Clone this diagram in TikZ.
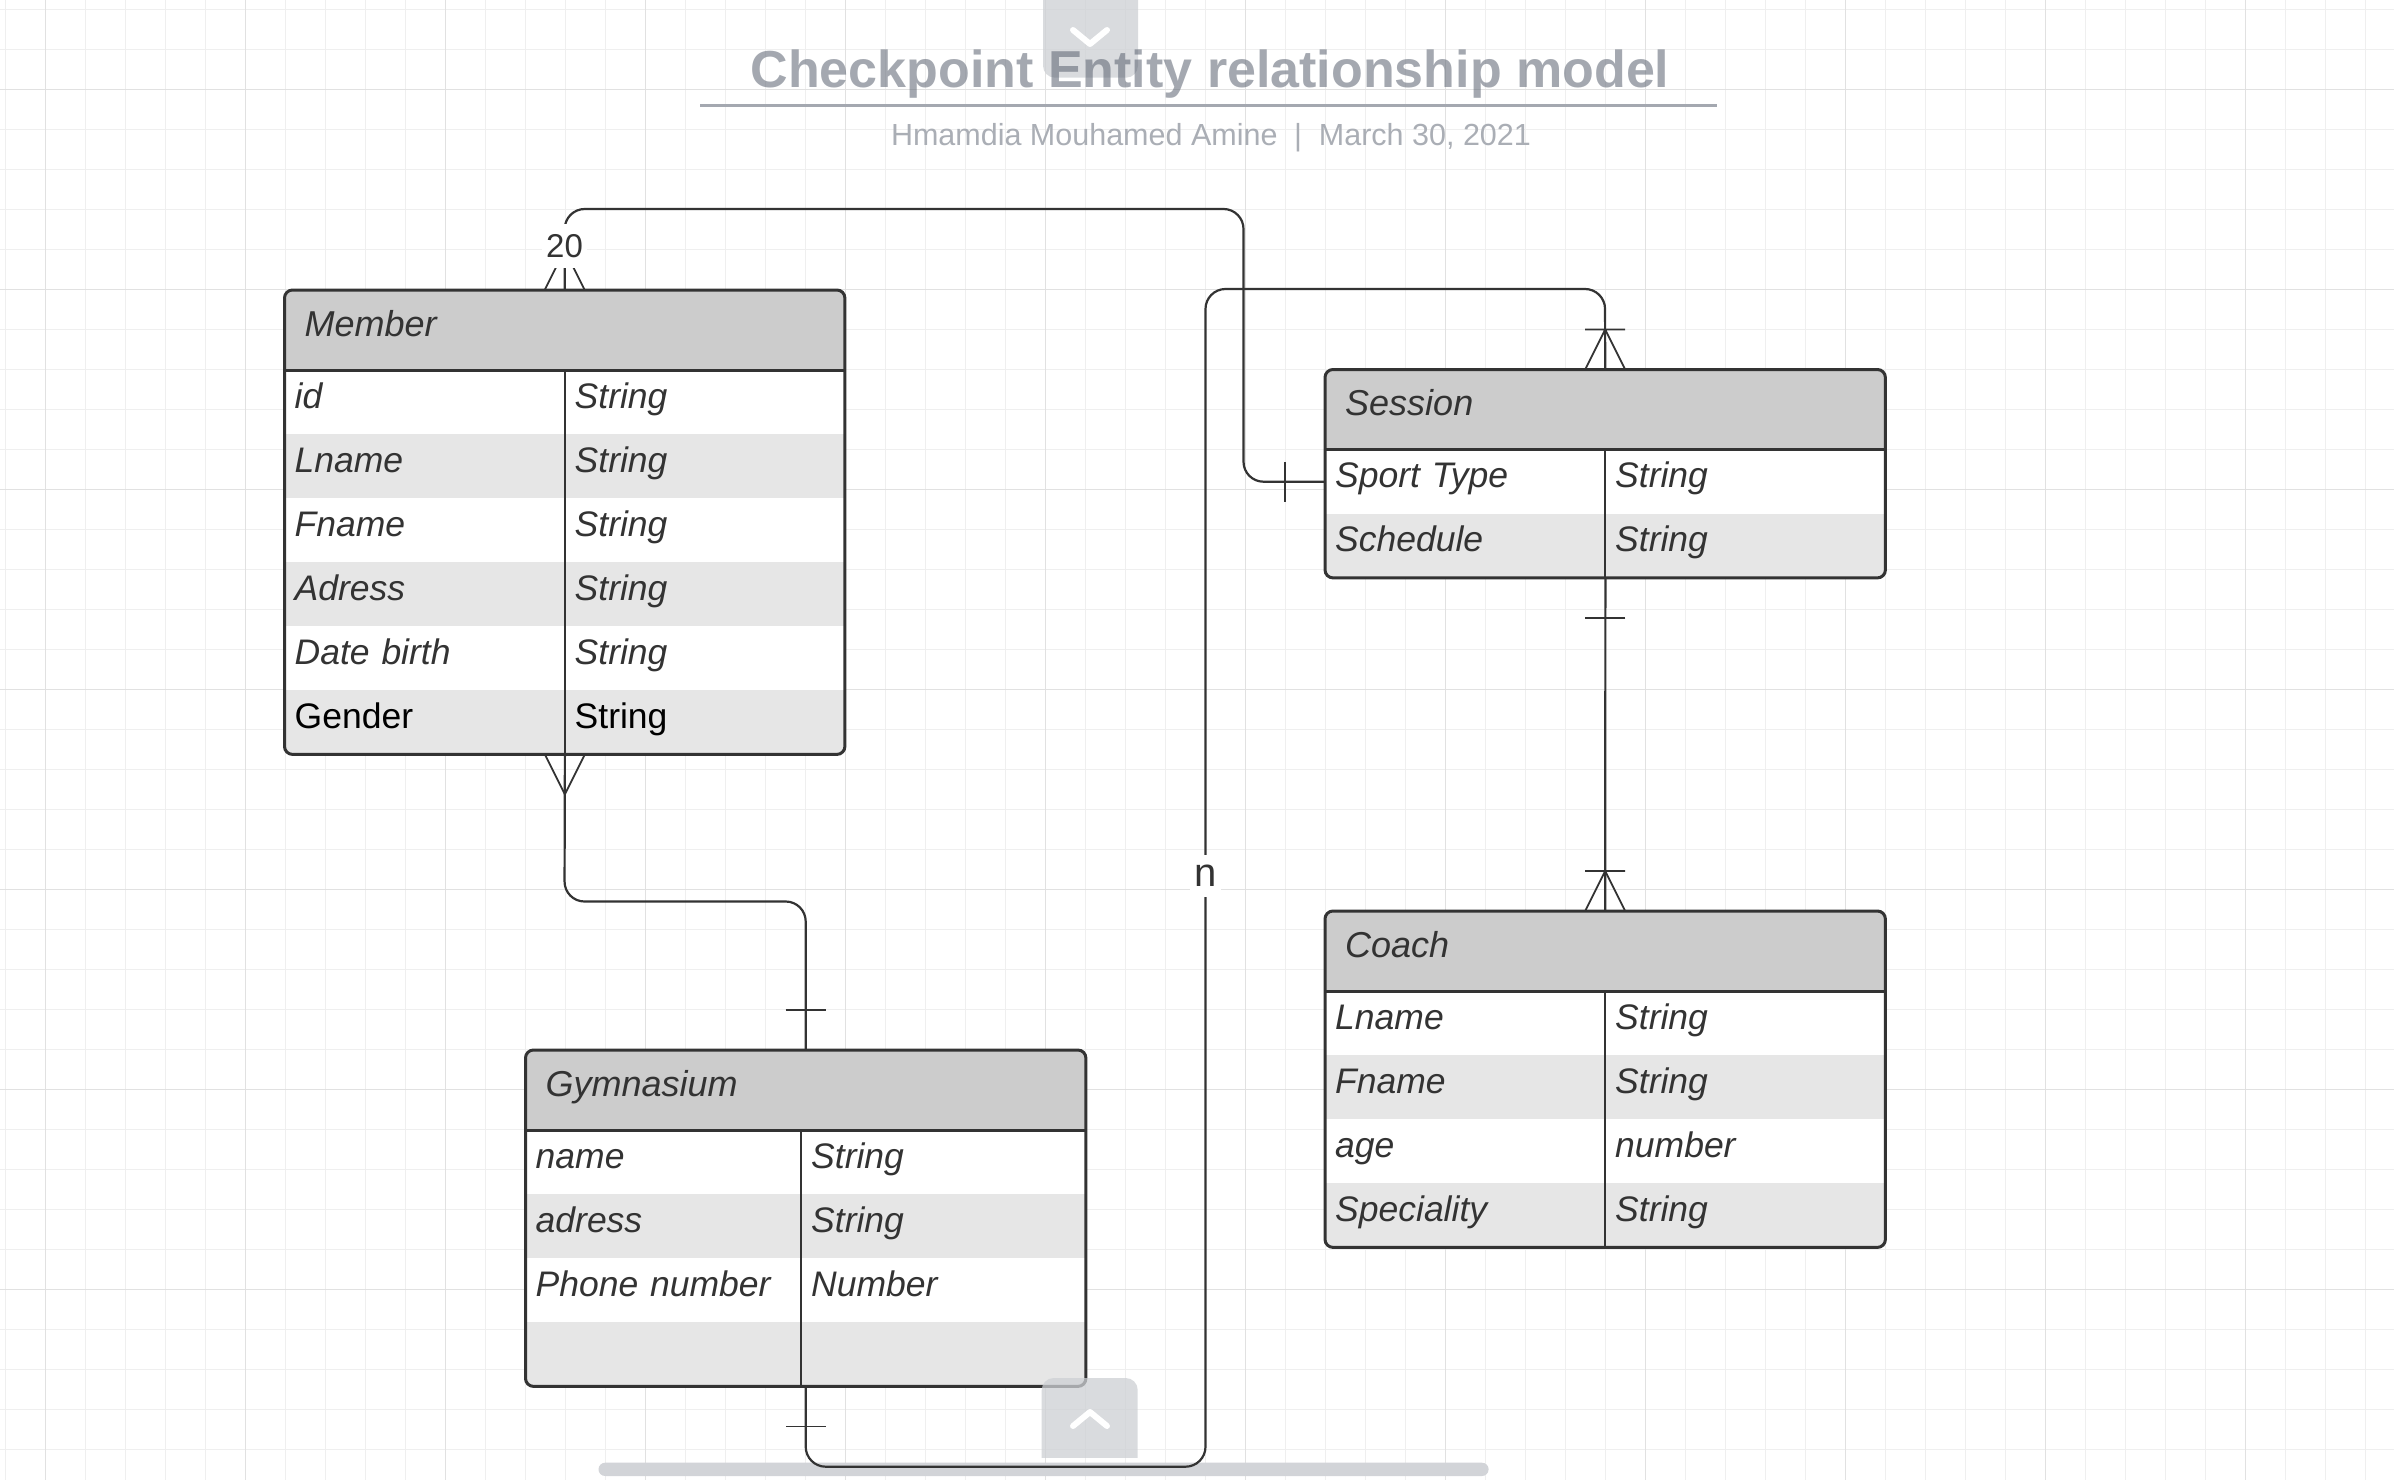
\documentclass[tikz,border=0pt]{standalone}
\usepackage{fontspec}
\setmainfont{Liberation Sans}
\usepackage{tikz}
\definecolor{ink}{HTML}{333333}
\definecolor{headfill}{HTML}{CCCCCC}
\definecolor{stripe}{HTML}{E6E6E6}
\definecolor{gridminor}{HTML}{EFEFEF}
\definecolor{gridmajor}{HTML}{E1E1E1}
\definecolor{titlegray}{HTML}{5A6270}
\definecolor{rulegray}{HTML}{A4A8B0}
\definecolor{subgray}{HTML}{AAAEB5}
\definecolor{tabgray}{HTML}{CDD0D4}
\definecolor{scrollgray}{HTML}{D2D4D8}

\begin{document}
\begin{tikzpicture}[x=1pt,y=-1pt]
\tikzset{
  grid minor/.style={draw=gridminor, line width=1pt},
  grid major/.style={draw=gridmajor, line width=1.4pt},
  er frame/.style={draw=ink, line width=3pt, rounded corners=8pt},
  er head/.style={anchor=north west, fill=headfill, minimum width=560pt, minimum height=80pt,
    text width=520pt, inner xsep=20pt, inner ysep=0pt, align=left, text height=26pt, text depth=13.5pt,
    font=\fontsize{36}{42}\selectfont\itshape, text=ink},
  er cell/.style={anchor=north west, minimum width=280pt, minimum height=64pt,
    text width=260pt, inner xsep=10pt, inner ysep=0pt, align=left, text height=25.5pt, text depth=13pt,
    font=\fontsize{35.5}{42}\selectfont\itshape, text=ink},
  er plain/.style={er cell, font=\fontsize{35.5}{42}\selectfont, text=black},
  er rule/.style={draw=ink, line width=3pt},
  er split/.style={draw=ink, line width=2pt},
  conn/.style={draw=ink, line width=2.2pt, rounded corners=20pt},
  crowline/.style={draw=ink, line width=1.8pt},
  card/.style={fill=white, text=ink, inner xsep=4pt, inner ysep=10.5pt},
  many/.pic={\draw[crowline] (-20pt,0pt) -- (0pt,40pt) -- (20pt,0pt);},
  onemany/.pic={\draw[crowline] (-20pt,0pt) -- (0pt,40pt) -- (20pt,0pt) (-20pt,40pt) -- (20pt,40pt);},
  one/.pic={\draw[crowline] (-20pt,40pt) -- (20pt,40pt);},
  viewer tab/.style={fill=tabgray, fill opacity=.75, rounded corners=12pt},
  chevron/.style={draw=white, line width=6pt, line cap=round, line join=round}
}
\fill[white] (0,0) rectangle (2394,1480);
\useasboundingbox (0,0) rectangle (2394,1480);
\foreach \gx in {5.3,45.3,...,2394} \draw[grid minor] (\gx,0) -- (\gx,1480);
\foreach \gy in {9.3,49.3,...,1480} \draw[grid minor] (0,\gy) -- (2394,\gy);
\foreach \gx in {45.3,245.3,...,2394} \draw[grid major] (\gx,0) -- (\gx,1480);
\foreach \gy in {89.3,289.3,...,1480} \draw[grid major] (0,\gy) -- (2394,\gy);
\fill[scrollgray, rounded corners=6.6pt] (598.5,1462.7) rectangle (1488.6,1476);

% heading
\fill[viewer tab] (1043,-30) rectangle (1138,77.7);
\draw[chevron] (1073,30) -- (1090,44) -- (1107,30);
\node[anchor=base, font=\fontsize{52}{60}\selectfont\bfseries, text=titlegray, text opacity=.55] (title) at (1210,87.3) {Checkpoint Entity relationship model};
\draw[draw=rulegray, line width=3.3pt] (700,105.7) -- (1716.5,105.7);
\node[anchor=base, font=\fontsize{30.5}{36}\selectfont, text=subgray] (byline) at (1211,145.7) {Hmamdia Mouhamed Amine\hspace{.55em}|\hspace{.55em}March 30, 2021};

% Member
\begin{scope}
\clip[rounded corners=8pt] (284.5,290) rectangle (844.5,754);
\fill[white] (284.5,290) rectangle (844.5,754);
\foreach \k in {2,4,6} \fill[stripe] (284.5,{370+64*(\k-1)}) rectangle ++(560,64);
\node[er head] (member) at (284.5,290) {Member};
\foreach \k/\a in {1/id,2/Lname,3/Fname,4/Adress,5/Date birth}{
  \node[er cell] (member-\k) at (284.5,{370+64*(\k-1)}) {\a};
  \node[er cell] (member-\k-type) at (564.5,{370+64*(\k-1)}) {String};
}
\node[er plain] (member-6) at (284.5,690) {Gender};
\node[er plain] (member-6-type) at (564.5,690) {String};
\end{scope}
\draw[er rule] (member.south west) -- (member.south east);
\draw[er split] (member-1.north east) -- (member-6.south east);
\draw[er frame] (member.north west) rectangle (member-6-type.south east);

% Session
\begin{scope}
\clip[rounded corners=8pt] (1325,369.5) rectangle (1885,577.5);
\fill[white] (1325,369.5) rectangle (1885,577.5);
\fill[stripe] (1325,513.5) rectangle ++(560,64);
\node[er head] (session) at (1325,369.5) {Session};
\foreach \k/\a in {1/Sport Type,2/Schedule}{
  \node[er cell] (session-\k) at (1325,{449.5+64*(\k-1)}) {\a};
  \node[er cell] (session-\k-type) at (1605,{449.5+64*(\k-1)}) {String};
}
\end{scope}
\draw[er rule] (session.south west) -- (session.south east);
\draw[er split] (session-1.north east) -- (session-2.south east);
\draw[er frame] (session.north west) rectangle (session-2-type.south east);

% Coach
\begin{scope}
\clip[rounded corners=8pt] (1325,911) rectangle (1885,1247);
\fill[white] (1325,911) rectangle (1885,1247);
\foreach \k in {2,4} \fill[stripe] (1325,{991+64*(\k-1)}) rectangle ++(560,64);
\node[er head] (coach) at (1325,911) {Coach};
\foreach \k/\a/\b in {1/Lname/String,2/Fname/String,3/age/number,4/Speciality/String}{
  \node[er cell] (coach-\k) at (1325,{991+64*(\k-1)}) {\a};
  \node[er cell] (coach-\k-type) at (1605,{991+64*(\k-1)}) {\b};
}
\end{scope}
\draw[er rule] (coach.south west) -- (coach.south east);
\draw[er split] (coach-1.north east) -- (coach-4.south east);
\draw[er frame] (coach.north west) rectangle (coach-4-type.south east);

% Gymnasium
\begin{scope}
\clip[rounded corners=8pt] (525.5,1050) rectangle (1085.5,1386);
\fill[white] (525.5,1050) rectangle (1085.5,1386);
\foreach \k in {2,4} \fill[stripe] (525.5,{1130+64*(\k-1)}) rectangle ++(560,64);
\node[er head] (gym) at (525.5,1050) {Gymnasium};
\foreach \k/\a/\b in {1/name/String,2/adress/String,3/Phone number/Number,4//}{
  \node[er cell, minimum width=275.5pt, text width=255.5pt] (gym-\k) at (525.5,{1130+64*(\k-1)}) {\a};
  \node[er cell, minimum width=284.5pt, text width=264.5pt] (gym-\k-type) at (801,{1130+64*(\k-1)}) {\b};
}
\end{scope}
\draw[er rule] (gym.south west) -- (gym.south east);
\draw[er split] (gym-1.north east) -- (gym-4.south east);
\draw[er frame] (gym.north west) rectangle (gym-4-type.south east);

% relations
\draw[conn] (member.north) |- (1243.5,209) |- (session-1.west);
\draw[conn] (member-6.south east) -- (564.5,901.5) -| (gym.north);
\draw[conn] (gym.north |- gym-4.south) |- (1205.5,1466.7) |- (1605,289) -- (session.north);
\draw[conn] (session-2.south east) -- (coach.north);
\pic at (member.north) {many};
\pic[rotate=180] at (member-6.south east) {many};
\pic at (gym.north) {one};
\pic[rotate=180] at (gym.north |- gym-4.south) {one};
\pic at (session.north) {onemany};
\pic[rotate=90] at (session-1.west) {one};
\pic[rotate=180] at (session-2.south east) {one};
\pic at (coach.north) {onemany};
\node[card, font=\fontsize{33}{40}\selectfont] (card-member) at (564.5,246) {20};
\node[card, font=\fontsize{40}{48}\selectfont] (card-gym) at (1205.5,876) {n};

% viewer
\begin{scope}
\clip (1030,1370) rectangle (1150,1457.7);
\fill[viewer tab] (1041.7,1378) rectangle (1137.7,1500);
\end{scope}
\draw[chevron] (1073,1426) -- (1090,1412) -- (1107,1426);
\end{tikzpicture}
\end{document}
